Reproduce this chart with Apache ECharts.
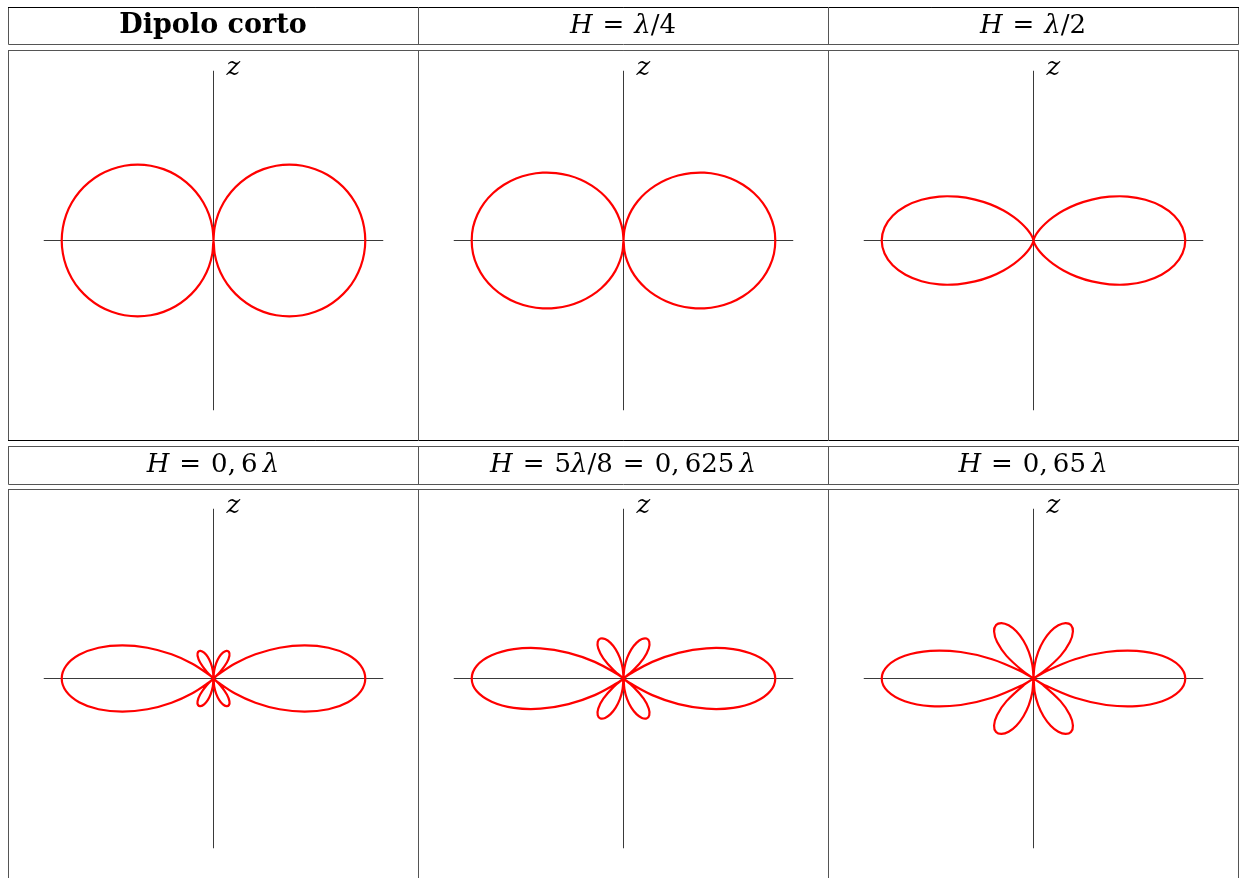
<!DOCTYPE html>
<html>
<head>
<meta charset="utf-8">
<title>Diagramas de radiación</title>
<script src="https://cdn.jsdelivr.net/npm/echarts@6/dist/echarts.min.js"></script>
<style>
  html, body { margin: 0; padding: 0; background: #fff; }
  #chart { width: 1239px; height: 878px; }
</style>
</head>
<body>
<div id="chart"></div>
<script>
// Normalised field pattern |F(θ)| in one quadrant, θ measured from the z axis (degrees).
// Each entry: [theta, |F|]. The other three quadrants follow by symmetry.
const DIPOLO_CORTO = [[0,0],[5,0.087],[10,0.174],[15,0.259],[20,0.342],[25,0.423],[30,0.5],[35,0.574],[40,0.643],[45,0.707],[50,0.766],[55,0.819],[60,0.866],[65,0.906],[70,0.940],[75,0.966],[80,0.985],[85,0.996],[90,1]];
const H_L4 = [[0,0],[5,0.069],[10,0.137],[15,0.207],[20,0.277],[25,0.347],[30,0.418],[35,0.489],[40,0.559],[45,0.628],[50,0.695],[55,0.758],[60,0.817],[65,0.869],[70,0.914],[75,0.951],[80,0.978],[85,0.995],[90,1]];
const H_L2 = [[0,0],[5,0.000],[10,0.003],[15,0.011],[20,0.026],[25,0.051],[30,0.087],[35,0.137],[40,0.201],[45,0.279],[50,0.370],[55,0.470],[60,0.577],[65,0.685],[70,0.785],[75,0.873],[80,0.942],[85,0.985],[90,1]];
const H_060 = [[0,0],[5,0.053],[10,0.103],[15,0.147],[20,0.181],[25,0.201],[30,0.203],[35,0.183],[40,0.137],[45,0.063],[48.2,0],[50,0.040],[55,0.170],[60,0.319],[65,0.480],[70,0.639],[75,0.784],[80,0.899],[85,0.974],[90,1]];
const H_0625 = [[0,0],[5,0.071],[10,0.138],[15,0.199],[20,0.250],[25,0.287],[30,0.304],[35,0.296],[40,0.259],[45,0.188],[50,0.083],[53.13,0],[55,0.055],[60,0.219],[65,0.400],[70,0.582],[75,0.748],[80,0.882],[85,0.970],[90,1]];
const H_065 = [[0,0],[5,0.091],[10,0.178],[15,0.259],[20,0.331],[25,0.387],[30,0.422],[35,0.430],[40,0.404],[45,0.339],[50,0.232],[55,0.084],[57.42,0],[60,0.097],[65,0.301],[70,0.510],[75,0.704],[80,0.861],[85,0.964],[90,1]];

const PATTERNS = [DIPOLO_CORTO, H_L4, H_L2, H_060, H_0625, H_065];
const AXIS_MAX = 1.12;     // length of the drawn x / z axes, in pattern units

// Layout of the table
const COLS = [8, 418, 828, 1238];
const ROWS = [
  { top: 7,   bottom: 44 },   // header row 1
  { top: 50,  bottom: 440 },  // plots row 1
  { top: 446, bottom: 484 },  // header row 2
  { top: 489, bottom: 900 }   // plots row 2
];
const CENTERS = [
  [213.5, 240.5], [623.5, 240.5], [1033.5, 240.5],
  [213.5, 678.5], [623.5, 678.5], [1033.5, 678.5]
];
const PLOT_RADIUS = 170;

const SERIF = '"DejaVu Serif", "Liberation Serif", serif';
const FS = 26;
const rich = {
  b:  { fontFamily: SERIF, fontWeight: 'bold', fontSize: 27, color: '#000' },
  i:  { fontFamily: SERIF, fontStyle: 'italic', fontSize: FS, color: '#000' },
  r:  { fontFamily: SERIF, fontSize: FS, color: '#000' },
  op: { fontFamily: SERIF, fontSize: FS, color: '#000', padding: [0, 10, 0, 10] }
};
const HEADERS = [
  '{b|Dipolo corto}',
  '{i|H}{op|=}{i|λ}{r|/4}',
  '{i|H}{op|=}{i|λ}{r|/2}',
  '{i|H}{op|=}{r|0,\u20096\u2009}{i|λ}',
  '{i|H}{op|=}{r|5}{i|λ}{r|/8}{op|=}{r|0,\u2009625\u2009}{i|λ}',
  '{i|H}{op|=}{r|0,\u200965\u2009}{i|λ}'
];

// Full 0–360° closed curve from one quadrant, as [radius, angle] pairs
function fullCurve(q) {
  const out = [];
  q.forEach(([t, r]) => out.push([r, t]));
  q.slice(0, -1).reverse().forEach(([t, r]) => out.push([r, 180 - t]));
  q.slice(1).forEach(([t, r]) => out.push([r, 180 + t]));
  q.slice(0, -1).reverse().forEach(([t, r]) => out.push([r, 360 - t]));
  return out;
}

const polar = [], angleAxis = [], radiusAxis = [], series = [], graphic = [];

PATTERNS.forEach((q, k) => {
  polar.push({ center: CENTERS[k], radius: PLOT_RADIUS });
  angleAxis.push({
    polarIndex: k, type: 'value', min: 0, max: 360, startAngle: 90, clockwise: true,
    axisLine: { show: false }, axisTick: { show: false }, axisLabel: { show: false },
    splitLine: { show: false }
  });
  radiusAxis.push({
    polarIndex: k, type: 'value', min: 0, max: AXIS_MAX,
    axisLine: { show: false }, axisTick: { show: false }, axisLabel: { show: false },
    splitLine: { show: false }
  });
  // horizontal axis and z axis
  series.push({
    type: 'line', coordinateSystem: 'polar', polarIndex: k, silent: true,
    symbol: 'none', animation: false,
    lineStyle: { color: '#3a3a3a', width: 1 },
    data: [[AXIS_MAX, 90], [0, 0], [AXIS_MAX, 270]]
  });
  series.push({
    type: 'line', coordinateSystem: 'polar', polarIndex: k, silent: true,
    symbol: 'none', animation: false,
    lineStyle: { color: '#3a3a3a', width: 1 },
    data: [[AXIS_MAX, 0], [0, 0], [AXIS_MAX, 180]]
  });
  // radiation pattern: one smooth closed curve through the polar scale
  const curve = fullCurve(q);
  series.push({
    type: 'custom', coordinateSystem: 'polar', polarIndex: k, silent: true,
    animation: false, z: 5,
    data: curve,
    renderItem: (params, api) => {
      if (params.dataIndex !== 0) return null;
      const pts = curve.map(p => api.coord(p));
      return {
        type: 'polyline',
        shape: { points: pts, smooth: 0.33 },
        style: { stroke: '#ff0000', lineWidth: 2.2, fill: 'none', lineJoin: 'round' }
      };
    }
  });
  // z label
  graphic.push({
    type: 'text', x: CENTERS[k][0] + 13, y: CENTERS[k][1] - 172,
    style: { text: 'z', font: 'italic 26px ' + SERIF, fill: '#000',
             verticalAlign: 'middle', align: 'left' }
  });
});

// Table frames
ROWS.forEach((row, ri) => {
  const strokeTop = (ri === 0) ? '#000' : '#555';
  graphic.push({
    type: 'rect', shape: { x: COLS[0] + 0.5, y: row.top + 0.5, width: COLS[3] - COLS[0], height: row.bottom - row.top },
    style: { fill: 'none', stroke: '#555', lineWidth: 1 }
  });
  graphic.push({
    type: 'line', shape: { x1: COLS[0], y1: row.top + 0.5, x2: COLS[3] + 1, y2: row.top + 0.5 },
    style: { stroke: strokeTop, lineWidth: 1 }
  });
  if (ri === 1) {
    graphic.push({
      type: 'line', shape: { x1: COLS[0], y1: row.bottom + 0.5, x2: COLS[3] + 1, y2: row.bottom + 0.5 },
      style: { stroke: '#000', lineWidth: 1 }
    });
  }
  [COLS[1], COLS[2]].forEach(x => {
    graphic.push({
      type: 'line', shape: { x1: x + 0.5, y1: row.top, x2: x + 0.5, y2: row.bottom + 1 },
      style: { stroke: '#555', lineWidth: 1 }
    });
  });
});

// Header texts
HEADERS.forEach((txt, k) => {
  const col = k % 3;
  const hdr = k < 3 ? ROWS[0] : ROWS[2];
  graphic.push({
    type: 'text',
    x: (COLS[col] + COLS[col + 1]) / 2,
    y: (hdr.top + hdr.bottom) / 2 + 0.5,
    style: { text: txt, rich: rich, align: 'center', verticalAlign: 'middle' }
  });
});

const chart = echarts.init(document.getElementById('chart'), null, { renderer: 'canvas' });
chart.setOption({
  backgroundColor: '#fff',
  animation: false,
  polar, angleAxis, radiusAxis, series, graphic
});
</script>
</body>
</html>
